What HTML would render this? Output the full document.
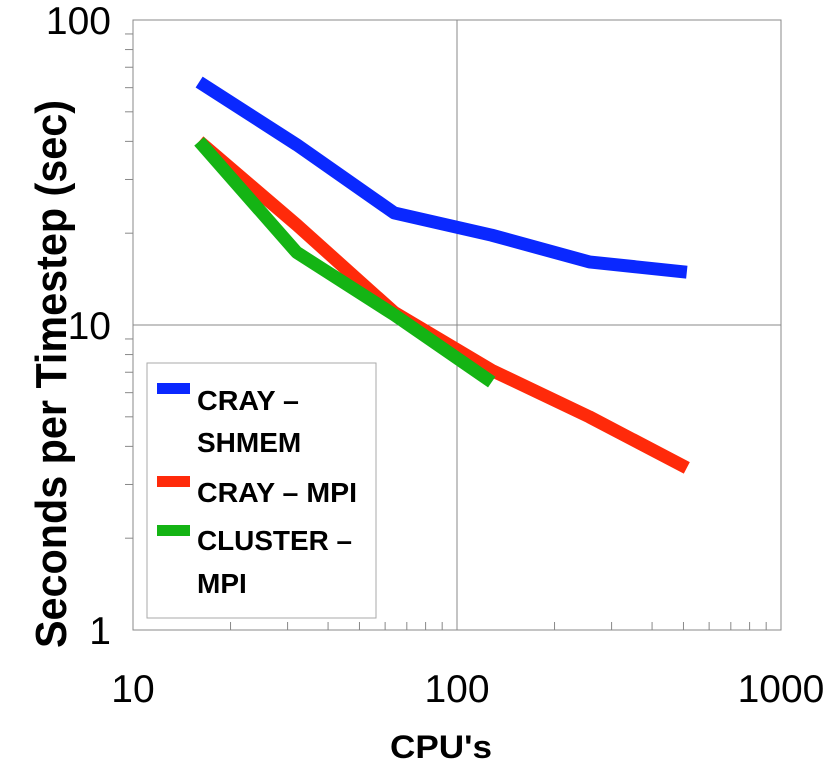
<!DOCTYPE html>
<html><head><meta charset="utf-8"><style>
body{margin:0;background:#fff;font-family:"Liberation Sans",sans-serif}
</style></head><body>
<svg width="832" height="775" xmlns="http://www.w3.org/2000/svg">
<g id="grid"></g>
<g id="series"></g>
<g id="labels" font-size="39" fill="#000"></g>
<text x="390" y="758" font-size="32" font-weight="bold" textLength="102" lengthAdjust="spacingAndGlyphs">CPU's</text>
<text transform="translate(66,648) rotate(-90)" font-size="44" font-weight="bold" textLength="548" lengthAdjust="spacingAndGlyphs">Seconds per Timestep (sec)</text>
<g font-size="28" font-weight="bold">
<rect x="147" y="363" width="229" height="255" fill="#fff" stroke="#aaa" stroke-width="1"/>
<rect x="157" y="383" width="33" height="11" fill="#0a28ff"/>
<text x="197" y="410" textLength="102" lengthAdjust="spacingAndGlyphs">CRAY –</text>
<text x="197" y="452">SHMEM</text>
<rect x="157" y="476" width="33" height="11" fill="#ff2a0a"/>
<text x="197" y="502" textLength="160" lengthAdjust="spacingAndGlyphs">CRAY – MPI</text>
<rect x="157" y="525" width="33" height="11" fill="#14b414"/>
<text x="197" y="550" textLength="155" lengthAdjust="spacingAndGlyphs">CLUSTER –</text>
<text x="197" y="593">MPI</text>
</g>
</svg>
<script>
const cpus=[16,32,64,128,256,512];
const shmem=[62.6,39,23.3,19.7,16.1,14.9];
const crayMpi=[40,21.3,11,7.1,5.0,3.4];
const cluster=[40,17.3,10.8,6.5];
const xTicks=["10","100","1000"];
const yTicks=["1","10","100"];
const NS="http://www.w3.org/2000/svg";
const L=133,R=781,T=20,B=630;
const xs=v=>L+(Math.log10(v)-1)/2*(R-L);
const ys=v=>B-Math.log10(v)/2*(B-T);
function mk(tag,attrs,parent){const e=document.createElementNS(NS,tag);for(const k in attrs)e.setAttribute(k,attrs[k]);parent.appendChild(e);return e;}
const g=document.getElementById('grid');
const r=mk('rect',{x:L,y:T,width:R-L,height:B-T,fill:'none',stroke:'#888','stroke-width':1},g);


[100].forEach(v=>{const l=mk('line',{x1:xs(v),x2:xs(v),y1:T,y2:B,stroke:'#888'},g);

});
[10].forEach(v=>{const l=mk('line',{x1:L,x2:R,y1:ys(v),y2:ys(v),stroke:'#888'},g);

});
for(let d=10;d<1000;d*=10)for(let k=2;k<=9;k++){const l=mk('line',{x1:xs(d*k),x2:xs(d*k),y1:B-8,y2:B,stroke:'#888'},g);

}
for(let d=1;d<100;d*=10)for(let k=2;k<=9;k++){const l=mk('line',{x1:L-8,x2:L,y1:ys(d*k),y2:ys(d*k),stroke:'#888'},g);

}
const lb=document.getElementById('labels');
xTicks.forEach(t=>{const e=mk('text',{x:xs(+t),y:702,'text-anchor':'middle'},lb);e.textContent=t;

});
yTicks.forEach(t=>{const e=mk('text',{x:L-22,y:ys(+t)+14,'text-anchor':'end'},lb);e.textContent=t;

});
const sg=document.getElementById('series');
[[shmem,'#0a28ff','line-cray-shmem'],[crayMpi,'#ff2a0a','line-cray-mpi'],[cluster,'#14b414','line-cluster-mpi']].forEach(([d,c,n])=>{
const p=mk('polyline',{points:d.map((v,i)=>xs(cpus[i])+','+ys(v)).join(' '),fill:'none',stroke:c,'stroke-width':13,'stroke-linejoin':'round'},sg);

});
</script>
</body></html>
